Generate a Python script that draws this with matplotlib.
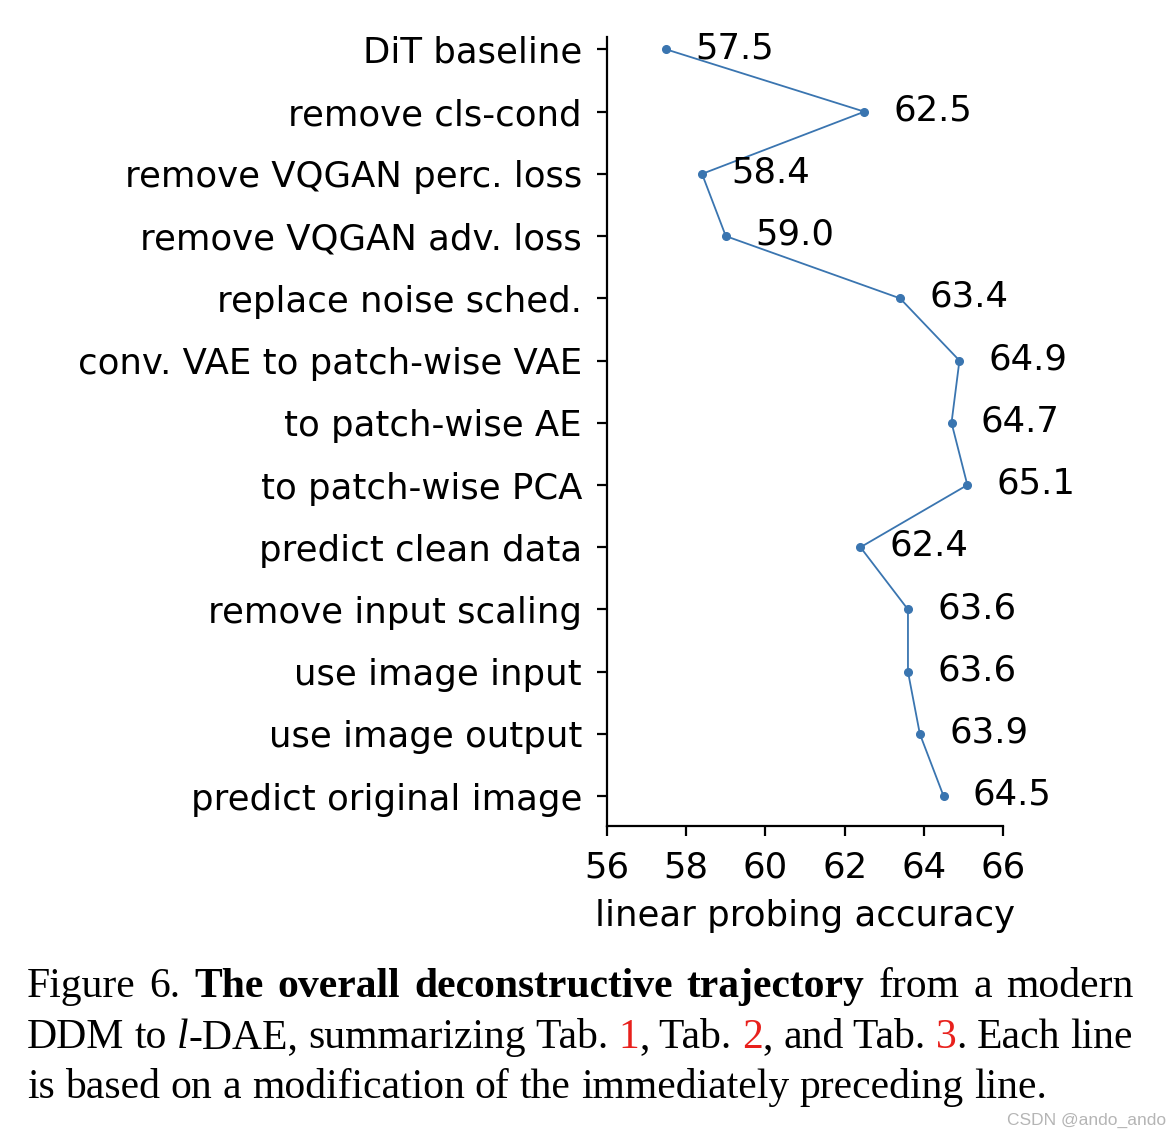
import matplotlib
matplotlib.use("Agg")
import matplotlib.pyplot as plt

categories = [
    "DiT baseline",
    "remove cls-cond",
    "remove VQGAN perc. loss",
    "remove VQGAN adv. loss",
    "replace noise sched.",
    "conv. VAE to patch-wise VAE",
    "to patch-wise AE",
    "to patch-wise PCA",
    "predict clean data",
    "remove input scaling",
    "use image input",
    "use image output",
    "predict original image",
]
accuracy = [57.5, 62.5, 58.4, 59.0, 63.4, 64.9, 64.7, 65.1, 62.4, 63.6, 63.6, 63.9, 64.5]
xticks = [56, 58, 60, 62, 64, 66]
xlabel = "linear probing accuracy"

caption_lines = [
    [("Figure", "normal", "normal", "black"), ("6.", "normal", "normal", "black"),
     ("The", "bold", "normal", "black"), ("overall", "bold", "normal", "black"),
     ("deconstructive", "bold", "normal", "black"), ("trajectory", "bold", "normal", "black"),
     ("from", "normal", "normal", "black"), ("a", "normal", "normal", "black"),
     ("modern", "normal", "normal", "black")],
    [("DDM", "normal", "normal", "black"), ("to", "normal", "normal", "black"),
     [("l", "normal", "italic", "black"), ("-DAE,", "normal", "normal", "black")],
     ("summarizing", "normal", "normal", "black"),
     [("Tab. ", "normal", "normal", "black"), ("1", "normal", "normal", "#e8201c"), (",", "normal", "normal", "black")],
     [("Tab. ", "normal", "normal", "black"), ("2", "normal", "normal", "#e8201c"), (",", "normal", "normal", "black")],
     ("and", "normal", "normal", "black"),
     [("Tab. ", "normal", "normal", "black"), ("3", "normal", "normal", "#e8201c"), (".", "normal", "normal", "black")],
     ("Each", "normal", "normal", "black"), ("line", "normal", "normal", "black")],
    [("is", "normal", "normal", "black"), ("based", "normal", "normal", "black"),
     ("on", "normal", "normal", "black"), ("a", "normal", "normal", "black"),
     ("modification", "normal", "normal", "black"), ("of", "normal", "normal", "black"),
     ("the", "normal", "normal", "black"), ("immediately", "normal", "normal", "black"),
     ("preceding", "normal", "normal", "black"), ("line.", "normal", "normal", "black")],
]

W, H = 1170, 1130
fig = plt.figure(figsize=(W / 100, H / 100), dpi=100)
ax = fig.add_axes([607 / W, 1 - 826 / H, (1003 - 607) / W, (826 - 37) / H])

ys = list(range(len(categories)))
color = "#3A75B0"
ax.plot(accuracy, ys, color=color, lw=1.3, marker="o", ms=5.5)
for x, y in zip(accuracy, ys):
    ax.annotate(f"{x:.1f}", (x, y), xytext=(21, 1), textcoords="offset points",
                va="center", ha="left", fontsize=25.6, family="DejaVu Sans")

ax.set_yticks(ys)
ax.set_yticklabels(categories, fontsize=25.6)
ax.set_ylim(12.48, -0.2)
ax.set_xlim(56, 66)
ax.set_xticks(xticks)
ax.set_xticklabels([str(t) for t in xticks], fontsize=25.6)
ax.set_xlabel(xlabel, fontsize=25.6, labelpad=10)
ax.spines["top"].set_visible(False)
ax.spines["right"].set_visible(False)
for s in ("left", "bottom"):
    ax.spines[s].set_linewidth(1.6)
ax.tick_params(axis="y", length=7, width=1.6, pad=11)
ax.tick_params(axis="x", length=7, width=1.6, pad=11)

# caption
fig.canvas.draw()
renderer = fig.canvas.get_renderer()
serif = "Liberation Serif"
fs = 30
x_left, x_right = 27, 1133
baselines = [997, 1048, 1098]


def seg_list(word):
    return word if isinstance(word, list) else [word]


def word_width(word):
    w = 0
    for (t, wt, st, c) in seg_list(word):
        tt = fig.text(0, 0, t, fontsize=fs, family=serif, weight=wt, style=st)
        w += tt.get_window_extent(renderer).width
        tt.remove()
    return w


sp = fig.text(0, 0, "a a", fontsize=fs, family=serif)
sp_a = fig.text(0, 0, "aa", fontsize=fs, family=serif)
space_w = sp.get_window_extent(renderer).width - sp_a.get_window_extent(renderer).width
sp.remove(); sp_a.remove()

for i, line in enumerate(caption_lines):
    widths = [word_width(w) for w in line]
    if i < 2:
        gap = (x_right - x_left - sum(widths)) / (len(line) - 1)
    else:
        gap = space_w
    x = x_left
    for word, wdt in zip(line, widths):
        xx = x
        for (t, wt, st, c) in seg_list(word):
            tt = fig.text(xx / W, 1 - baselines[i] / H, t, fontsize=fs, family=serif,
                          weight=wt, style=st, color=c, va="baseline", ha="left")
            xx += tt.get_window_extent(renderer).width
        x += wdt + gap

fig.text(1166 / W, 1 - 1120 / H, "CSDN @ando_ando", fontsize=12.5, color="#b5b5b5",
         ha="right", va="center", family="Liberation Sans")

fig.savefig("out.png", dpi=100)
